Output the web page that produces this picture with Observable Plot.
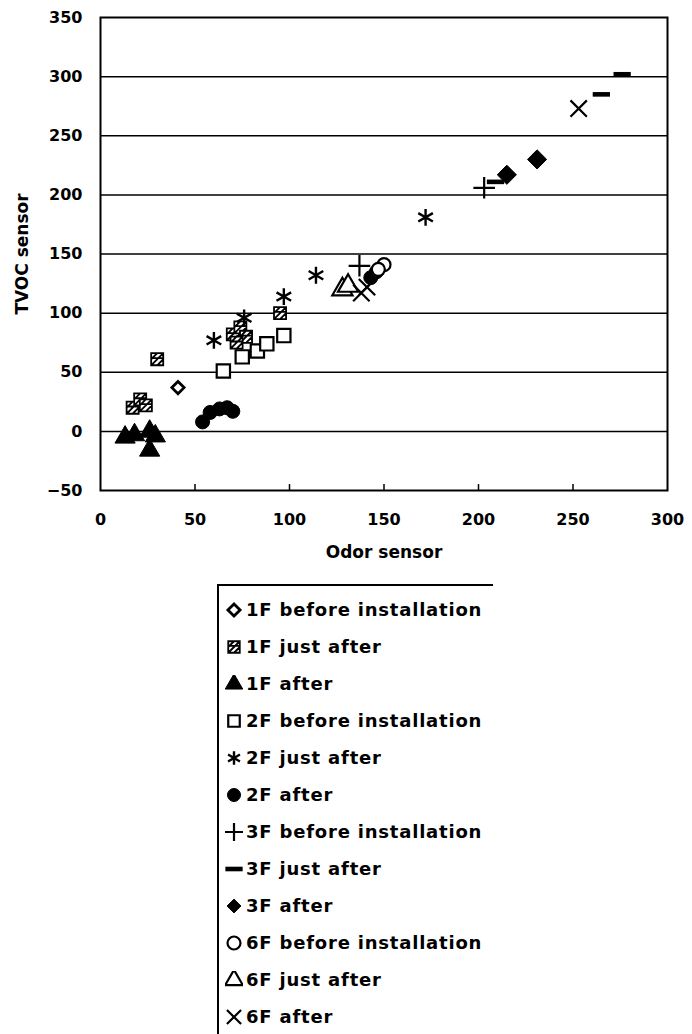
<!DOCTYPE html>
<html>
<head>
<meta charset="utf-8">
<script src="https://cdn.jsdelivr.net/npm/d3@7"></script>
<script src="https://cdn.jsdelivr.net/npm/@observablehq/plot@0.6"></script>
<style>
  html, body { margin: 0; padding: 0; background: #fff; }
  #wrap { position: relative; width: 692px; height: 1034px; overflow: hidden; font-family: "DejaVu Sans", sans-serif; }
  #chart { position: absolute; left: 0; top: 0; }
  #legend { position: absolute; left: 217px; top: 584px; width: 276px; height: 460px;
            border-left: 2px solid #000; border-top: 2px solid #000; box-sizing: border-box; padding-top: 5px; }
  .row { display: flex; align-items: center; height: 37px; font-weight: bold; font-size: 18px; letter-spacing: 0.8px; color: #000; }
  .row svg { margin-left: 6px; margin-right: 3px; flex: none; }
</style>
</head>
<body>
<div id="wrap">
  <div id="chart"></div>
  <div id="legend"></div>
</div>
<script>
// ---- data ----
const series = [
  "1F before installation", "1F just after", "1F after",
  "2F before installation", "2F just after", "2F after",
  "3F before installation", "3F just after", "3F after",
  "6F before installation", "6F just after", "6F after"
];
// Odor sensor values (x) per series
const odor = [
  [41],
  [30, 17, 21, 24, 70, 74, 77, 72, 95],
  [13, 18, 26, 29, 26],
  [65, 75, 83, 88, 97],
  [60, 76, 97, 114, 172],
  [54, 58, 63, 67, 70, 143, 146],
  [137, 203],
  [209, 265, 276],
  [215, 231],
  [150, 147],
  [128, 131],
  [138, 141, 253]
];
// TVOC sensor values (y) per series
const tvoc = [
  [37],
  [61, 20, 27, 22, 82, 88, 80, 75, 100],
  [-5, -3, 0, -4, -16],
  [51, 63, 68, 74, 81],
  [77, 96, 114, 132, 181],
  [8, 16, 19, 20, 17, 130, 135],
  [140, 206],
  [211, 285, 302],
  [217, 230],
  [141, 137],
  [120, 123],
  [117, 122, 273]
];
const xTicks = [0, 50, 100, 150, 200, 250, 300];
const yTicks = [-50, 0, 50, 100, 150, 200, 250, 300, 350];
const xTitle = "Odor sensor";
const yTitle = "TVOC sensor";

// ---- custom symbols ----
const hatchSquare = {
  draw(ctx, size) {
    const w = Math.sqrt(size) / 2;
    ctx.moveTo(-w, -w); ctx.lineTo(w, -w); ctx.lineTo(w, w); ctx.lineTo(-w, w); ctx.closePath();
    ctx.moveTo(-w, 0); ctx.lineTo(0, -w);
    ctx.moveTo(-w, w); ctx.lineTo(w, -w);
    ctx.moveTo(0, w); ctx.lineTo(w, 0);
    ctx.moveTo(-w, -w * 0.2); ctx.lineTo(w, -w * 0.2);
  }
};
const dash = {
  draw(ctx, size) {
    const w = Math.sqrt(size) * 0.75, h = Math.sqrt(size) * 0.2;
    ctx.rect(-w, -h, 2 * w, 2 * h);
  }
};
const fatDiamond = {
  draw(ctx, size) {
    const w = Math.sqrt(size) * 0.6;
    ctx.moveTo(0, -w); ctx.lineTo(w, 0); ctx.lineTo(0, w); ctx.lineTo(-w, 0); ctx.closePath();
  }
};
const d3types = { diamond2: d3.symbolDiamond2, triangle: d3.symbolTriangle, square: d3.symbolSquare,
  asterisk: d3.symbolAsterisk, circle: d3.symbolCircle, plus: d3.symbolPlus, times: d3.symbolTimes };

const styles = [
  { symbol: "diamond2", filled: false, r: 5.5, sw: 2.8 },
  { symbol: hatchSquare, filled: false, r: 6.8, sw: 1.8 },
  { symbol: "triangle", filled: true, r: 7.5, sw: 1 },
  { symbol: "square", filled: false, r: 7.5, sw: 2.2 },
  { symbol: "asterisk", filled: false, r: 8, sw: 2.4 },
  { symbol: "circle", filled: true, r: 7, sw: 1 },
  { symbol: "plus", filled: false, r: 7, sw: 2.2 },
  { symbol: dash, filled: true, r: 6.5, sw: 0 },
  { symbol: fatDiamond, filled: true, r: 9, sw: 1 },
  { symbol: "circle", filled: false, r: 6.5, sw: 2.2 },
  { symbol: "triangle", filled: false, r: 7.5, sw: 2.2 },
  { symbol: "times", filled: false, r: 7.5, sw: 2.2 }
];

const rows = series.flatMap((s, i) => odor[i].map((x, j) => ({ series: s, idx: i, x, y: tvoc[i][j] })));

const dotMarks = series.map((s, i) => {
  const st = styles[i];
  return Plot.dot(rows.filter(d => d.idx === i), {
    x: "x", y: "y", r: st.r, symbol: st.symbol,
    fill: st.filled ? "black" : "white",
    stroke: st.sw > 0 ? "black" : "none", strokeWidth: st.sw
  });
});

const chart = Plot.plot({
  width: 692, height: 580,
  marginLeft: 100, marginRight: 25, marginTop: 17, marginBottom: 90,
  style: { background: "white", color: "black", fontFamily: "DejaVu Sans, sans-serif", fontSize: "15px", fontWeight: "bold" },
  x: { domain: [0, 300], axis: null },
  y: { domain: [-50, 350], axis: null },
  marks: [
    Plot.gridY(yTicks.slice(1, -1), { stroke: "black", strokeOpacity: 1, strokeWidth: 1.5 }),
    Plot.ruleX(xTicks.slice(1, -1), { x: d => d, y1: -50, y2: -45, stroke: "black", strokeWidth: 1.5 }),
    Plot.frame({ stroke: "black", strokeWidth: 2 }),
    Plot.axisY(yTicks, { anchor: "left", tickSize: 0, tickPadding: 18, label: null, fontSize: 16, fontWeight: "bold" }),
    Plot.axisX(xTicks, { anchor: "bottom", tickSize: 0, tickPadding: 23, label: null, fontSize: 16, fontWeight: "bold" }),
    Plot.text([xTitle], { frameAnchor: "bottom", dy: 67, fontSize: 17, fontWeight: "bold", text: d => d, letterSpacing: "1px" }),
    Plot.text([yTitle], { frameAnchor: "left", textAnchor: "middle", dx: -78, rotate: -90, fontSize: 17, fontWeight: "bold", text: d => d, letterSpacing: "1px" }),
    ...dotMarks
  ]
});
document.getElementById("chart").appendChild(chart);

// ---- legend ----
const legend = d3.select("#legend");
series.forEach((s, i) => {
  const st = styles[i];
  const row = legend.append("div").attr("class", "row");
  const svg = row.append("svg").attr("width", 18).attr("height", 18);
  const type = typeof st.symbol === "string" ? d3types[st.symbol] : st.symbol;
  const rr = Math.min(st.r, 6.5);
  svg.append("path")
    .attr("transform", "translate(9,9)")
    .attr("d", d3.symbol(type, rr * rr * Math.PI)())
    .attr("fill", st.filled ? "black" : "white")
    .attr("stroke", st.sw > 0 ? "black" : "none")
    .attr("stroke-width", st.sw);
  row.append("span").text(s);
});
</script>
</body>
</html>
